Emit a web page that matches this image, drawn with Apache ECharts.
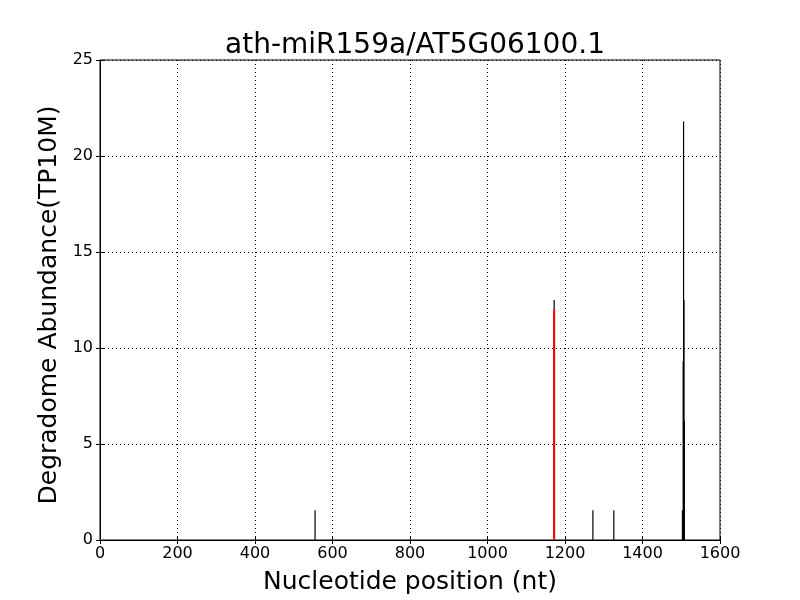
<!DOCTYPE html>
<html><head><meta charset="utf-8">
<script src="https://cdn.jsdelivr.net/npm/echarts@6/dist/echarts.min.js"></script>
<style>html,body{margin:0;padding:0;background:#fff}#c{width:800px;height:600px}</style>
</head><body><div id="c"></div>
<script>
const titleText = "ath-miR159a/AT5G06100.1";
const xName = "Nucleotide position (nt)";
const yName = "Degradome Abundance(TP10M)";
const blackPos = [555, 1172, 1272, 1326, 1503, 1505, 1506, 1507, 1508];
const blackVal = [1.55, 12.5, 1.55, 1.55, 1.55, 9.3, 21.8, 12.5, 6.2];
const redPos = [1172];
const redVal = [12.0];

const font = "DejaVu Sans";
function stems(color, width) {
  return function (params, api) {
    const x = api.value(0), v = api.value(1);
    const p0 = api.coord([x, 0]);
    const p1 = api.coord([x, v]);
    return { type: 'line', shape: { x1: p0[0], y1: p0[1], x2: p1[0], y2: p1[1] },
      style: { stroke: color, lineWidth: width } };
  };
}
const tick = { inside: true, length: 4, lineStyle: { color: '#000' } };
const grid = { show: true, lineStyle: { color: '#000', type: [1, 3], width: 1 } };
const chart = echarts.init(document.getElementById('c'));
chart.setOption({
  animation: false,
  title: { text: titleText, left: 410, top: 27, textAlign: 'center',
    textStyle: { fontFamily: font, fontSize: 28, fontWeight: 'normal', color: '#000' } },
  grid: { left: 100, right: 80, top: 60, bottom: 60, show: true, borderColor: '#000', borderWidth: 1 },
  xAxis: [{ type: 'value', min: 0, max: 1600, interval: 200,
    name: xName, nameLocation: 'middle', nameGap: 30,
    nameTextStyle: { fontFamily: font, fontSize: 25, color: '#000' },
    axisLine: { lineStyle: { color: '#000' } },
    axisTick: tick,
    axisLabel: { fontFamily: font, fontSize: 16, color: '#000', margin: 6, formatter: v => String(v) },
    splitLine: grid },
    { type: 'value', min: 0, max: 1600, interval: 200, position: 'top',
      axisLine: { show: false }, axisTick: tick, axisLabel: { show: false }, splitLine: { show: false } }],
  yAxis: [{ type: 'value', min: 0, max: 25, interval: 5,
    name: yName, nameLocation: 'middle', nameGap: 36,
    nameTextStyle: { fontFamily: font, fontSize: 25, color: '#000', padding: [0, 10, 0, 0] },
    axisLine: { lineStyle: { color: '#000' } },
    axisTick: tick,
    axisLabel: { fontFamily: font, fontSize: 16, color: '#000', margin: 7 },
    splitLine: grid },
    { type: 'value', min: 0, max: 25, interval: 5, position: 'right',
      axisLine: { show: false }, axisTick: tick, axisLabel: { show: false }, splitLine: { show: false } }],
  series: [
    { type: 'custom', renderItem: stems('#000', 1.2), data: blackPos.map((p, i) => [p, blackVal[i]]), z: 2 },
    { type: 'custom', renderItem: stems('#ff0000', 2), data: redPos.map((p, i) => [p, redVal[i]]), z: 3 }
  ]
});
</script></body></html>
